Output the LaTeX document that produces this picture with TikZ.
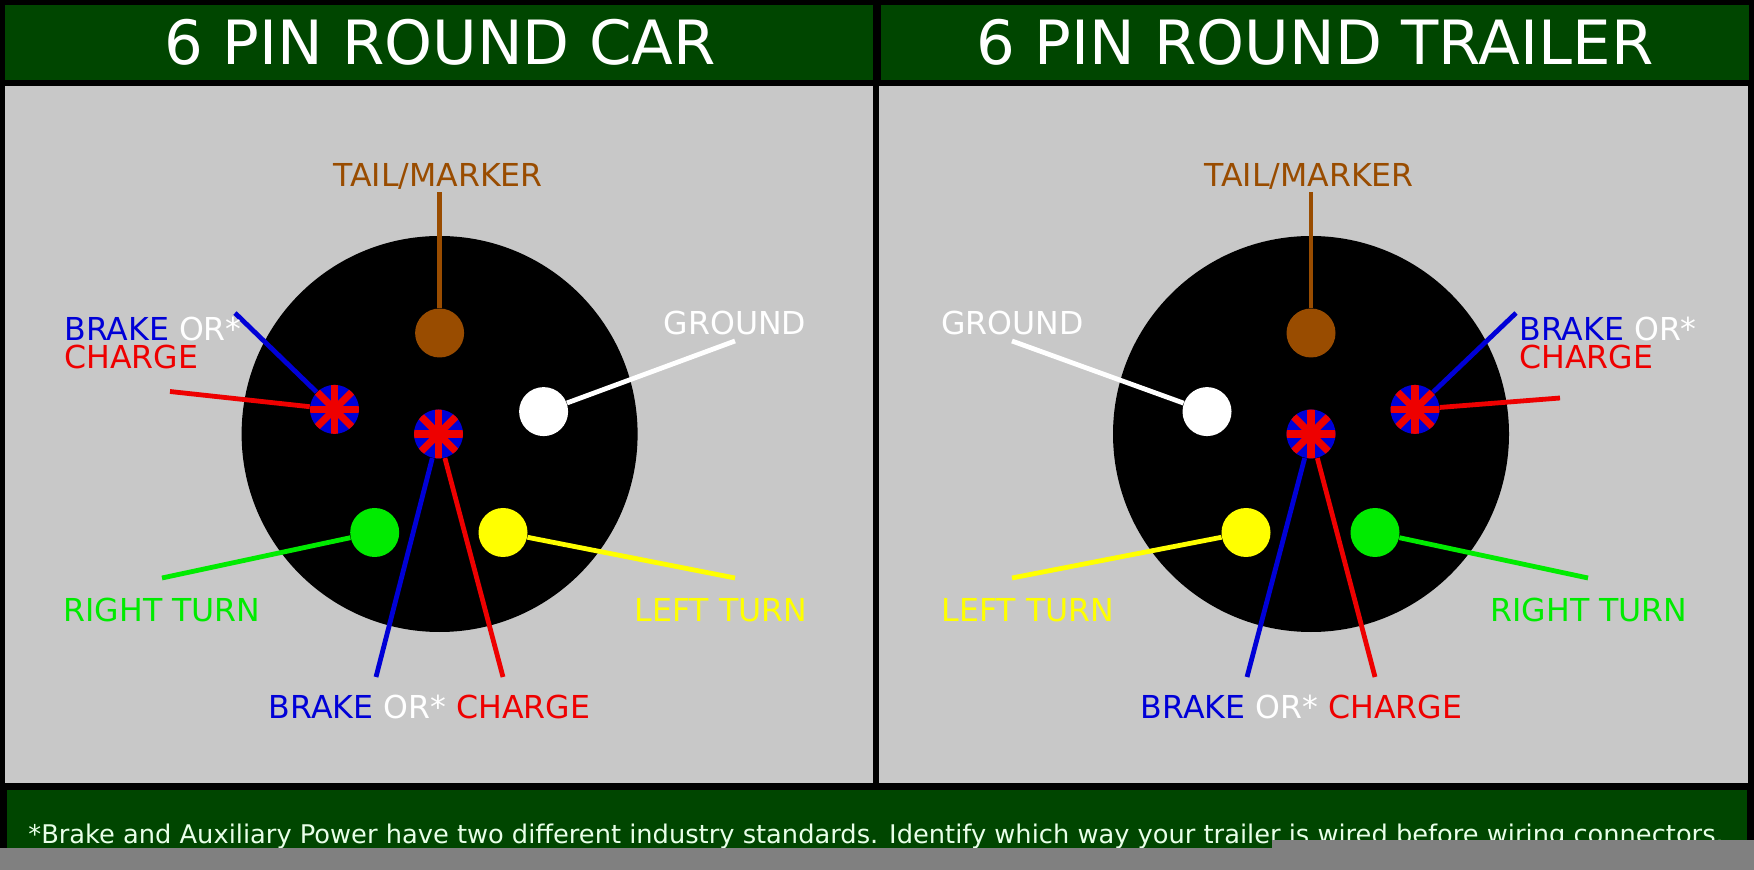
\documentclass[tikz,border=0pt]{standalone}
\usepackage{fontspec}
\setmainfont{DejaVu Sans}
\usetikzlibrary{positioning}
\definecolor{hdrgreen}{RGB}{0,70,0}
\definecolor{panelgray}{RGB}{200,200,200}
\definecolor{stripgray}{RGB}{128,128,128}
\definecolor{notetext}{RGB}{232,255,232}
\definecolor{wirebrown}{RGB}{153,76,0}
\definecolor{wireblue}{RGB}{0,0,215}
\definecolor{wirered}{RGB}{238,0,0}
\definecolor{wiregreen}{RGB}{0,235,0}
\definecolor{wireyellow}{RGB}{255,255,0}
\tikzset{
  socket/.style={circle, fill=black, minimum size=198pt, inner sep=0pt},
  contact/.style={circle, fill=#1, minimum size=24.5pt, inner sep=0pt},
  starpin/.style={circle, fill=wireblue, minimum size=24.5pt, inner sep=0pt,
    path picture={\foreach \a in {0,45,90,135}
      \draw[wirered, line width=3.6pt] (path picture bounding box.center) ++(\a:-14pt) -- ++(\a:28pt);}},
  wire/.style={draw=#1, line width=2.4pt},
  lbl/.style={font=\fontsize{15.8}{15.8}\selectfont, inner sep=0pt, anchor=base},
  title/.style={font=\fontsize{30.5}{30.5}\selectfont, text=white, inner sep=0pt, anchor=base}
}
\begin{document}
\begin{tikzpicture}[x=0.5pt, y=-0.5pt]
  \useasboundingbox (0,0) rectangle (1754,870);
  % frame, headers and panels
  \fill[black] (0,0) rectangle (1754,870);
  \fill[hdrgreen] (5,5) rectangle (873,80);
  \fill[hdrgreen] (881,5) rectangle (1749,80);
  \fill[panelgray] (5,86) rectangle (873,783);
  \fill[panelgray] (879,86) rectangle (1748,783);
  \fill[hdrgreen] (7,790) rectangle (1747,862);
  \node[title] (cartitle) at (440,65) {6 PIN ROUND CAR};
  \node[title] (trltitle) at (1315,65) {6 PIN ROUND TRAILER};

  % car side
  \node[socket] (carsock) at (439.6,434) {};
  \node[contact=wirebrown] (cartail) at (439.6,333) {};
  \node[starpin] (carbrk) at (334.5,409.4) {};
  \node[starpin] (carctr) at (438.5,434) {};
  \node[contact=white] (cargnd) at (543.6,411.6) {};
  \node[contact=wiregreen] (carrt) at (374.7,532.5) {};
  \node[contact=wireyellow] (carlt) at (503,532.5) {};
  \coordinate (cartailend) at (439.6,192);
  \coordinate (carbrkblue) at (235,313);
  \coordinate (carbrkred) at (170,391.5);
  \coordinate (carctrblue) at (376,677);
  \coordinate (carctrred) at (503,677);
  \coordinate (cargndend) at (735,341);
  \coordinate (carrtend) at (162,578);
  \coordinate (carltend) at (735,578);
  \draw[wire=wirebrown] (cartail) -- (cartailend);
  \draw[wire=wireblue] (carbrk) -- (carbrkblue);
  \draw[wire=wirered] (carbrk) -- (carbrkred);
  \draw[wire=wireblue] (carctr) -- (carctrblue);
  \draw[wire=wirered] (carctr) -- (carctrred);
  \draw[wire=white] (cargnd) -- (cargndend);
  \draw[wire=wiregreen] (carrt) -- (carrtend);
  \draw[wire=wireyellow] (carlt) -- (carltend);
  \node[lbl, text=wirebrown] (cartaillbl) at (438,187) {TAIL/MARKER};
  \node[lbl, anchor=base west] (carbrklbl) at (64,341) {\textcolor{wireblue}{BRAKE} \textcolor{white}{OR*}};
  \node[lbl, anchor=base west, text=wirered] (carchglbl) at (64,369) {CHARGE};
  \node[lbl, text=white] (cargndlbl) at (735,335) {GROUND};
  \node[lbl, text=wiregreen] (carrtlbl) at (162,621) {RIGHT TURN};
  \node[lbl, text=wireyellow] (carltlbl) at (721,621) {LEFT TURN};
  \node[lbl] (carctrlbl) at (429.5,718) {\textcolor{wireblue}{BRAKE} \textcolor{white}{OR*} \textcolor{wirered}{CHARGE}};

  % trailer side
  \node[socket] (trlsock) at (1311,434) {};
  \node[contact=wirebrown] (trltail) at (1311,333) {};
  \node[starpin] (trlbrk) at (1415,409.4) {};
  \node[starpin] (trlctr) at (1311,434) {};
  \node[contact=white] (trlgnd) at (1207,411.6) {};
  \node[contact=wireyellow] (trllt) at (1246,532.5) {};
  \node[contact=wiregreen] (trlrt) at (1375,532.5) {};
  \coordinate (trltailend) at (1311,192);
  \coordinate (trlbrkblue) at (1516,313);
  \coordinate (trlbrkred) at (1560,398);
  \coordinate (trlctrblue) at (1247,677);
  \coordinate (trlctrred) at (1375,677);
  \coordinate (trlgndend) at (1012,341);
  \coordinate (trlltend) at (1012,578);
  \coordinate (trlrtend) at (1588,578);
  \draw[wire=wirebrown] (trltail) -- (trltailend);
  \draw[wire=wireblue] (trlbrk) -- (trlbrkblue);
  \draw[wire=wirered] (trlbrk) -- (trlbrkred);
  \draw[wire=wireblue] (trlctr) -- (trlctrblue);
  \draw[wire=wirered] (trlctr) -- (trlctrred);
  \draw[wire=white] (trlgnd) -- (trlgndend);
  \draw[wire=wireyellow] (trllt) -- (trlltend);
  \draw[wire=wiregreen] (trlrt) -- (trlrtend);
  \node[lbl, text=wirebrown] (trltaillbl) at (1309,187) {TAIL/MARKER};
  \node[lbl, anchor=base west] (trlbrklbl) at (1519,341) {\textcolor{wireblue}{BRAKE} \textcolor{white}{OR*}};
  \node[lbl, anchor=base west, text=wirered] (trlchglbl) at (1519,369) {CHARGE};
  \node[lbl, text=white] (trlgndlbl) at (1012.5,335) {GROUND};
  \node[lbl, text=wireyellow] (trlltlbl) at (1028,621) {LEFT TURN};
  \node[lbl, text=wiregreen] (trlrtlbl) at (1589,621) {RIGHT TURN};
  \node[lbl] (trlctrlbl) at (1301.5,718) {\textcolor{wireblue}{BRAKE} \textcolor{white}{OR*} \textcolor{wirered}{CHARGE}};

  % footnote, cut by the grey strip
  \node[anchor=base west, inner sep=0pt, text=notetext, font=\fontsize{12.85}{12.85}\selectfont] (note) at (28,843)
    {*Brake and Auxiliary Power have two different industry standards. Identify which way your trailer is wired before wiring connectors.};
  \fill[stripgray] (0,848) rectangle (1754,870);
  \fill[stripgray] (1272,840) rectangle (1754,870);
\end{tikzpicture}
\end{document}
